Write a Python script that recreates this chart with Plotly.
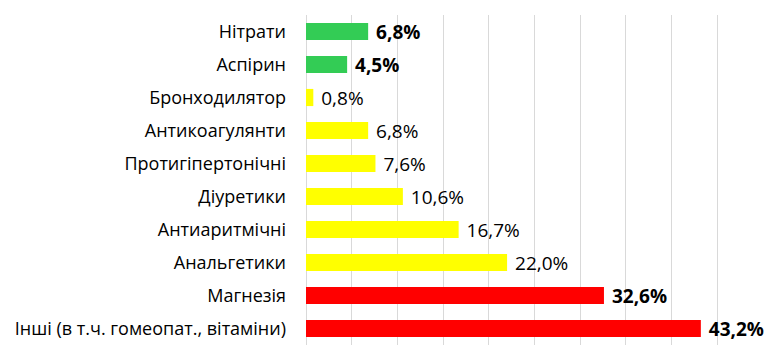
import plotly.graph_objects as go

categories = ["Нітрати", "Аспірин", "Бронходилятор", "Антикоагулянти",
              "Протигіпертонічні", "Діуретики", "Антиаритмічні", "Анальгетики",
              "Магнезія", "Інші (в т.ч. гомеопат., вітаміни)"]
values = [6.8, 4.5, 0.8, 6.8, 7.6, 10.6, 16.7, 22.0, 32.6, 43.2]
groups = ["green", "green", "yellow", "yellow", "yellow", "yellow", "yellow", "yellow", "red", "red"]

color_map = {"green": "#33CC55", "yellow": "#FFFF00", "red": "#FF0000"}
bold_groups = {"green", "red"}

colors = [color_map[g] for g in groups]
texts = []
for v, g in zip(values, groups):
    s = f"{v:.1f}%".replace(".", ",")
    texts.append(f" <b>{s}</b>" if g in bold_groups else f" {s}")

font_family = "Open Sans, Liberation Sans, Arial, sans-serif"

fig = go.Figure(go.Bar(
    x=values, y=categories, orientation="h",
    marker=dict(color=colors, line=dict(width=0)),
    text=texts, textposition="outside", cliponaxis=False,
    constraintext="none",
    textfont=dict(size=19, color="black", family=font_family),
))

# page body has an 8px default margin: compensate in size and margins
fig.update_layout(
    width=770, height=353,
    margin=dict(l=298, r=15, t=7, b=16),
    plot_bgcolor="white", paper_bgcolor="white",
    bargap=0.48, showlegend=False,
    font=dict(family=font_family, color="black"),
    xaxis=dict(range=[0, 50], dtick=5, showticklabels=False, showgrid=True,
               gridcolor="#D9D9D9", gridwidth=1, zeroline=True,
               zerolinecolor="#D9D9D9", zerolinewidth=1, showline=False, fixedrange=True),
    yaxis=dict(autorange="reversed", showgrid=False, showline=False, ticks="",
               ticklabelstandoff=19, automargin=False,
               tickfont=dict(size=18, color="black", family=font_family)),
)

fig.write_html("out.html")
